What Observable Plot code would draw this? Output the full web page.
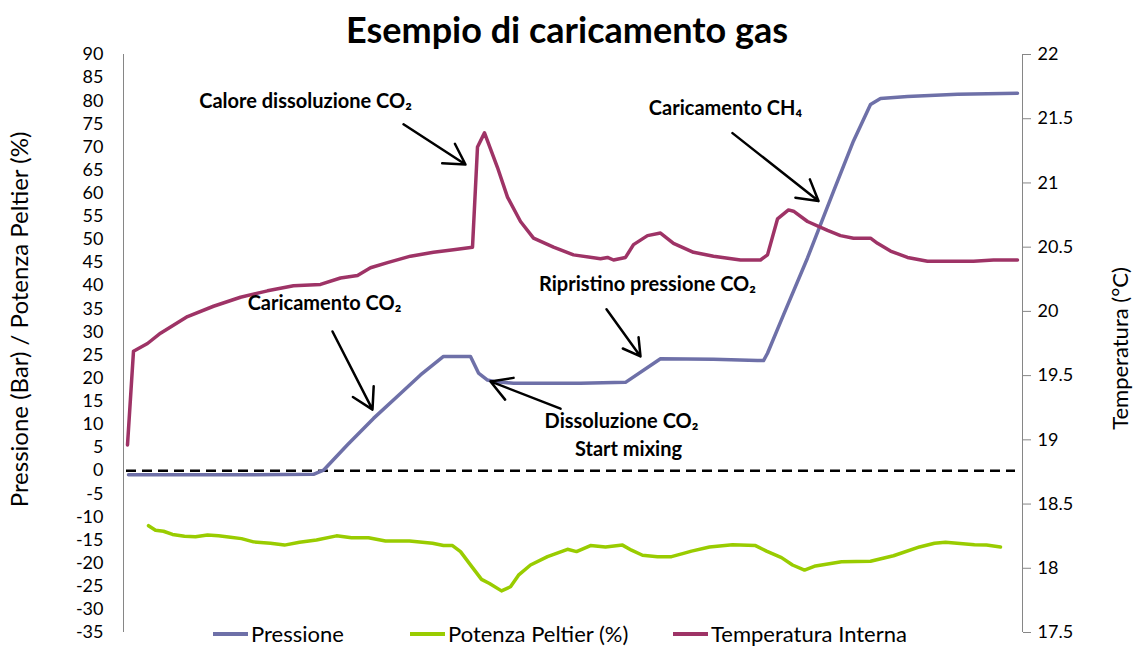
<!DOCTYPE html>
<html>
<head>
<meta charset="utf-8">
<script src="https://cdn.jsdelivr.net/npm/d3@7"></script>
<script src="https://cdn.jsdelivr.net/npm/@observablehq/plot@0.6"></script>
<style>
  html, body { margin: 0; padding: 0; background: #fff; }
  #wrap { position: relative; width: 1134px; height: 648px; overflow: hidden; font-family: Lato, "Open Sans", sans-serif; }
  #title { position: absolute; top: 7px; left: 0; width: 1134px; text-align: center; font-weight: bold; font-size: 36px; color: #000; }
  .ytitle { position: absolute; white-space: nowrap; color: #000; transform-origin: center center; }
  #ylab { font-size: 24px; }
  #ylab2 { font-size: 22px; }
  #legend { position: absolute; top: 621px; left: 0; width: 1134px; height: 26px; font-size: 22px; line-height: 26px; }
  .item { position: absolute; top: 0; display: flex; align-items: center; }
  .sw { width: 35px; height: 4px; margin-right: 3px; }
  svg { position: absolute; top: 0; left: 0; }
</style>
</head>
<body>
<div id="wrap">
  <div id="chart"></div>
  <div id="title"></div>
  <div class="ytitle" id="ylab"></div>
  <div class="ytitle" id="ylab2"></div>
  <div id="legend"></div>
</div>
<script>
// ---- Data (time index, arbitrary units) ----
const titleText = "Esempio di caricamento gas";
const leftLabel = "Pressione (Bar) / Potenza Peltier (%)";
const rightLabel = "Temperatura (°C)";
const seriesNames = ["Pressione", "Potenza Peltier (%)", "Temperatura Interna"];
const seriesColors = ["#6E70A8", "#99CC00", "#9E3366"];

const leftTicks = d3.range(-35, 91, 5);
const rightTicks = [17.5, 18, 18.5, 19, 19.5, 20, 20.5, 21, 21.5, 22];

const pressT = [5, 97, 190, 200, 224, 250, 277, 297, 320, 347, 355, 364, 370, 390, 457, 502, 537, 590, 634, 640, 644, 660, 684, 710, 730, 747, 757, 784, 834, 894];
const pressV = [-0.9, -0.9, -0.8, 0.1, 5.6, 11.3, 16.7, 20.7, 24.7, 24.7, 21.1, 19.6, 19.3, 18.9, 18.9, 19.1, 24.2, 24.1, 23.8, 23.8, 25.4, 33.7, 46, 60.4, 71.3, 79.2, 80.5, 80.9, 81.4, 81.6];

const peltT = [25, 32, 40, 49, 61, 72, 84, 95, 107, 118, 130, 147, 161, 176, 193, 213, 228, 245, 262, 286, 309, 320, 329, 337, 346, 358, 366, 378, 387, 395, 407, 424, 444, 453, 467, 482, 499, 508, 519, 534, 548, 560, 568, 586, 609, 632, 643, 658, 669, 681, 692, 718, 747, 770, 796, 811, 822, 851, 863, 877];
const peltV = [-11.9, -12.9, -13.1, -13.8, -14.2, -14.3, -13.9, -14.1, -14.4, -14.7, -15.4, -15.7, -16.1, -15.5, -15.0, -14.1, -14.5, -14.5, -15.2, -15.2, -15.7, -16.2, -16.2, -17.5, -20.1, -23.5, -24.4, -26.0, -25.1, -22.6, -20.4, -18.6, -17.0, -17.5, -16.2, -16.5, -16.1, -17.2, -18.3, -18.6, -18.6, -17.9, -17.4, -16.5, -16.0, -16.2, -17.4, -18.8, -20.4, -21.5, -20.6, -19.7, -19.6, -18.4, -16.5, -15.7, -15.5, -16.0, -16.1, -16.5];

const tempT = [4, 10, 24, 37, 64, 90, 117, 144, 170, 197, 217, 234, 247, 264, 287, 310, 330, 349, 354, 361, 374, 384, 397, 410, 430, 450, 477, 484, 490, 502, 510, 524, 537, 550, 570, 590, 617, 637, 644, 654, 665, 670, 684, 704, 717, 730, 747, 754, 767, 784, 804, 850, 870, 894];
const tempV = [18.96, 19.69, 19.75, 19.83, 19.96, 20.04, 20.11, 20.16, 20.20, 20.21, 20.26, 20.28, 20.34, 20.38, 20.43, 20.46, 20.48, 20.50, 21.28, 21.39, 21.12, 20.89, 20.70, 20.57, 20.50, 20.44, 20.41, 20.42, 20.40, 20.42, 20.52, 20.59, 20.61, 20.53, 20.46, 20.43, 20.40, 20.40, 20.44, 20.72, 20.79, 20.78, 20.70, 20.63, 20.59, 20.57, 20.57, 20.53, 20.47, 20.42, 20.39, 20.39, 20.40, 20.40];

// annotations (in data coordinates: time index, left-axis value)
const noteText = ["Calore dissoluzione CO₂", "Caricamento CH₄", "Caricamento CO₂", "Ripristino pressione CO₂", "Dissoluzione CO₂", "Start mixing"];
const noteT = [182, 602, 201, 524, 498, 505];
const noteV = [79.9, 78.2, 36.2, 40.3, 10.6, 4.6];
const arrowT1 = [280, 209, 483, 609, 437];
const arrowV1 = [74.9, 30.1, 34.9, 73.0, 13.4];
const arrowT2 = [342, 249, 517, 695, 367];
const arrowV2 = [66.2, 13.2, 24.7, 58.3, 19.3];

// ---- scale mapping for the secondary (temperature) axis ----
const yMin = -35, yMax = 90, tMin = 17.5, tMax = 22;
const toLeft = T => (T - tMin) / (tMax - tMin) * (yMax - yMin) + yMin;
const fromLeft = v => (v - yMin) / (yMax - yMin) * (tMax - tMin) + tMin;
const xDomain = [0, 899];

const press = pressT.map((t, i) => ({t, v: pressV[i]}));
const pelt = peltT.map((t, i) => ({t, v: peltV[i]}));
const temp = tempT.map((t, i) => ({t, v: toLeft(tempV[i])}));
const notes = noteText.map((s, i) => ({s, t: noteT[i], v: noteV[i]}));
const arrows = arrowT1.map((t, i) => ({t1: t, v1: arrowV1[i], t2: arrowT2[i], v2: arrowV2[i]}));

const chart = Plot.plot({
  width: 1134,
  height: 648,
  marginTop: 54,
  marginBottom: 16,
  marginLeft: 123,
  marginRight: 112,
  style: {fontFamily: "Lato, 'Open Sans', sans-serif", background: "transparent"},
  x: {domain: xDomain, axis: null},
  y: {domain: [yMin, yMax], axis: null},
  marks: [
    Plot.ruleX([xDomain[0]], {stroke: "#868686", strokeWidth: 1}),
    Plot.ruleX([xDomain[1]], {stroke: "#868686", strokeWidth: 1}),
    Plot.axisY({ticks: leftTicks, tickSize: 0, tickPadding: 20, fontSize: 18, label: null, tickFormat: d => String(d)}),
    Plot.axisY(rightTicks.map(toLeft), {anchor: "right", tickSize: 8, tickPadding: 7, stroke: "#868686", fill: "black", fontSize: 18, label: null,
      tickFormat: d => String(+fromLeft(d).toFixed(2))}),
    Plot.ruleY([0], {stroke: "black", strokeWidth: 2.5, strokeDasharray: "10,6", insetLeft: 3, insetRight: 7}),
    Plot.line(pelt, {x: "t", y: "v", stroke: seriesColors[1], strokeWidth: 3.5}),
    Plot.line(press, {x: "t", y: "v", stroke: seriesColors[0], strokeWidth: 3.5}),
    Plot.line(temp, {x: "t", y: "v", stroke: seriesColors[2], strokeWidth: 3.5}),
    Plot.arrow(arrows, {x1: "t1", y1: "v1", x2: "t2", y2: "v2", stroke: "black", strokeWidth: 2.5, headLength: 14}),
    Plot.text(notes, {x: "t", y: "v", text: "s", fontWeight: "bold", fontSize: 20, fill: "black"})
  ]
});
document.getElementById("chart").appendChild(chart);

document.getElementById("title").textContent = titleText;
const yl = document.getElementById("ylab");
yl.textContent = leftLabel;
const yl2 = document.getElementById("ylab2");
yl2.textContent = rightLabel;
function placeRot(el, cx, cy) {
  const w = el.offsetWidth, h = el.offsetHeight;
  el.style.left = (cx - w / 2) + "px";
  el.style.top = (cy - h / 2) + "px";
  el.style.transform = "rotate(-90deg)";
}
placeRot(yl, 19, 319);
placeRot(yl2, 1119, 348);

const legend = document.getElementById("legend");
const legendLeft = [213, 410, 673];
seriesNames.forEach((name, i) => {
  const it = document.createElement("div");
  it.className = "item";
  it.style.left = legendLeft[i] + "px";
  const sw = document.createElement("span");
  sw.className = "sw";
  sw.style.background = seriesColors[i];
  const tx = document.createElement("span");
  tx.textContent = name;
  it.appendChild(sw);
  it.appendChild(tx);
  legend.appendChild(it);
});
</script>
</body>
</html>
